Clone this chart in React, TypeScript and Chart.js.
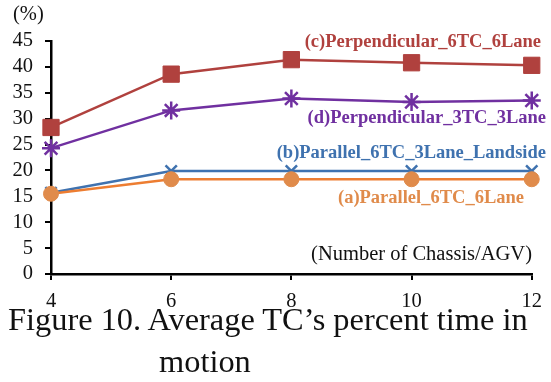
import React, { useEffect, useRef } from "react";
import { Chart, registerables } from "chart.js";

Chart.register(...registerables);

const xValues = [4, 6, 8, 10, 12];
const seriesA = [15.5, 18.3, 18.3, 18.3, 18.3]; // (a)Parallel_6TC_6Lane
const seriesB = [15.7, 19.9, 19.9, 19.9, 19.9]; // (b)Parallel_6TC_3Lane_Landside
const seriesC = [28.3, 38.6, 41.4, 40.8, 40.3]; // (c)Perpendicular_6TC_6Lane
const seriesD = [24.3, 31.6, 33.9, 33.2, 33.5]; // (d)Perpendicular_3TC_3Lane
const seriesNames = [
  "(a)Parallel_6TC_6Lane",
  "(b)Parallel_6TC_3Lane_Landside",
  "(c)Perpendicular_6TC_6Lane",
  "(d)Perpendicular_3TC_3Lane",
];
const yUnit = "(%)";
const xTitle = "(Number of Chassis/AGV)";
const captionLines = ["Figure 10. Average TC\u2019s percent time in", "motion"];

const SERIF = "'Liberation Serif', 'Times New Roman', serif";

const labelsPlugin = {
  id: "seriesLabels",
  afterDraw(chart: any) {
    const { ctx, scales } = chart;
    const y = scales.y;
    ctx.save();
    ctx.font = `bold 18.5px ${SERIF}`;
    ctx.textBaseline = "middle";
    ctx.textAlign = "right";
    // (c)
    ctx.fillStyle = "#B0413E";
    ctx.fillText(seriesNames[2], 541, y.getPixelForValue(45) + 1);
    // (d)
    ctx.fillStyle = "#7030A0";
    ctx.fillText(seriesNames[3], 546, y.getPixelForValue(30));
    // (b)
    ctx.fillStyle = "#3F72AF";
    ctx.fillText(seriesNames[1], 546, y.getPixelForValue(23.3));
    // (a)
    ctx.fillStyle = "#E08B4B";
    ctx.textAlign = "left";
    ctx.fillText(seriesNames[0], 338, y.getPixelForValue(14.6));
    // x title
    ctx.textAlign = "right";
    ctx.font = `20.5px ${SERIF}`;
    ctx.fillStyle = "#111";
    ctx.fillText(xTitle, 532, y.getPixelForValue(3.8));
    // unit
    ctx.textAlign = "left";
    ctx.font = `20.5px ${SERIF}`;
    ctx.fillText(yUnit, 13, 15);
    ctx.restore();
  },
};

export default function App() {
  const canvasRef = useRef<HTMLCanvasElement | null>(null);

  useEffect(() => {
    document.body.style.margin = "0";
    const canvas = canvasRef.current;
    if (!canvas) return;
    const mk = (
      label: string,
      data: number[],
      color: string,
      pointColor: string,
      style: string,
      radius: number,
      borderW: number
    ) => ({
      label,
      data: data.map((v, i) => ({ x: xValues[i], y: v })),
      borderColor: color,
      backgroundColor: pointColor,
      pointBackgroundColor: pointColor,
      pointBorderColor: pointColor,
      pointStyle: style,
      pointRadius: radius,
      pointBorderWidth: borderW,
      borderWidth: 2.5,
      tension: 0,
      clip: false,
    });
    const chart = new Chart(canvas, {
      type: "line",
      data: {
        datasets: [
          mk(seriesNames[0], seriesA, "#ED7D31", "#E08B4B", "circle", 7.5, 1),
          mk(seriesNames[1], seriesB, "#3F72AF", "#3F72AF", "crossRot", 8, 2.5),
          mk(seriesNames[2], seriesC, "#B0413E", "#B0413E", "rect", 11.5, 1),
          mk(seriesNames[3], seriesD, "#7030A0", "#7030A0", "star", 9, 2.5),
        ] as any,
      },
      options: {
        animation: false,
        responsive: true,
        maintainAspectRatio: false,
        layout: { padding: { left: 0, top: 41, right: 13, bottom: 68 } },
        plugins: {
          legend: { display: false },
          tooltip: { enabled: false },
        },
        scales: {
          x: {
            type: "linear",
            min: 4,
            max: 12,
            ticks: { stepSize: 2, color: "#111", font: { family: SERIF, size: 20.5 }, padding: 9, autoSkip: false, maxRotation: 0 },
            grid: { display: true, drawOnChartArea: false, drawTicks: true, tickLength: 6, color: "#000", lineWidth: 2 } as any,
            border: { color: "#000", width: 2.5 },
            afterFit(scale: any) {
              scale.height = 40;
            },
          },
          y: {
            min: 0,
            max: 45,
            ticks: { stepSize: 5, color: "#111", font: { family: SERIF, size: 20.5 }, padding: 12, autoSkip: false },
            grid: { display: true, drawOnChartArea: false, drawTicks: true, tickLength: 6, color: "#000", lineWidth: 2 } as any,
            border: { color: "#000", width: 2.5 },
            afterFit(scale: any) {
              scale.width = 51;
            },
          },
        },
      } as any,
      plugins: [labelsPlugin],
    });
    return () => chart.destroy();
  }, []);

  return (
    <div style={{ position: "relative", width: 551, height: 382, background: "#fff" }}>
      <canvas ref={canvasRef} />
      <div
        style={{
          position: "absolute",
          left: 0,
          top: 298,
          width: 551,
          fontFamily: SERIF,
          fontSize: 32.4,
          lineHeight: "42px",
          color: "#111",
          whiteSpace: "nowrap",
        }}
      >
        <div style={{ position: "absolute", left: 8, top: 0 }}>{captionLines[0]}</div>
        <div style={{ position: "absolute", left: 159, top: 42 }}>{captionLines[1]}</div>
      </div>
    </div>
  );
}
